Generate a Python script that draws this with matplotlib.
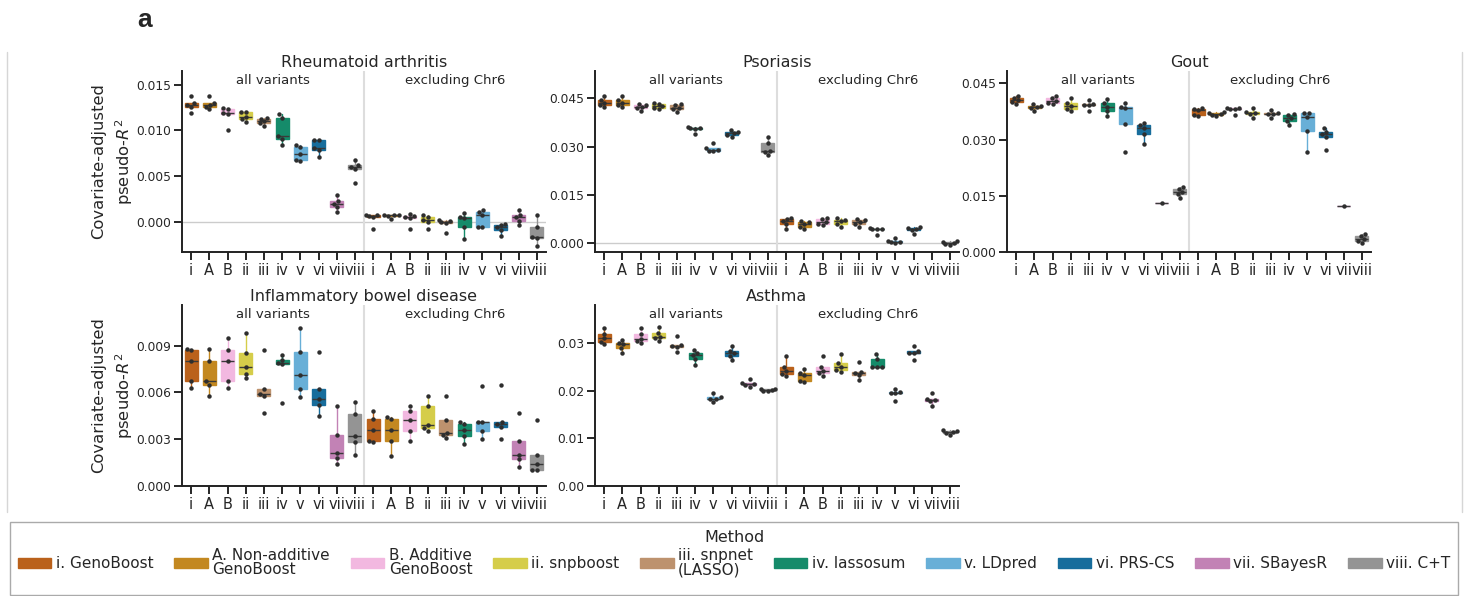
import numpy as np
import pandas as pd
import matplotlib
matplotlib.use('Agg')
import matplotlib.pyplot as plt
from matplotlib.patches import Patch, Rectangle
from matplotlib.lines import Line2D
import seaborn as sns

W, H = 1469, 596

# ── methods ───────────────────────────────────────────────────────────────────

TICK_LABELS = ["i", "A", "B", "ii", "iii", "iv", "v", "vi", "vii", "viii"]
METHOD_NAMES = [
    "i. GenoBoost", "A. Non-additive\nGenoBoost", "B. Additive\nGenoBoost",
    "ii. snpboost", "iii. snpnet\n(LASSO)", "iv. lassosum", "v. LDpred",
    "vi. PRS-CS", "vii. SBayesR", "viii. C+T",
]
BASE_COLORS = ["#D55E00", "#DE8F05", "#FBAFE4", "#ECE133", "#CA9161",
               "#029E73", "#56B4E9", "#0173B2", "#CC78BC", "#949494"]

# ── covariate-adjusted pseudo-R2 per fold (all variants / excluding Chr6) ─────

RA_ALL = [
    [0.0138, 0.0130, 0.0128, 0.0126, 0.0119],
    [0.0138, 0.0130, 0.0128, 0.0126, 0.0123],
    [0.0124, 0.0123, 0.0119, 0.0118, 0.0101],
    [0.0120, 0.0120, 0.0115, 0.0112, 0.0109],
    [0.0114, 0.0113, 0.0110, 0.0108, 0.0105],
    [0.0118, 0.0114, 0.0094, 0.0091, 0.0084],
    [0.0084, 0.0082, 0.0074, 0.0068, 0.0067],
    [0.0090, 0.0089, 0.0081, 0.0079, 0.0071],
    [0.0029, 0.0023, 0.0020, 0.0016, 0.0011],
    [0.0068, 0.0062, 0.0060, 0.0058, 0.0043],
]
RA_EXCL = [
    [0.0008, 0.0007, 0.0006, 0.0005, -0.0008],
    [0.0008, 0.0007, 0.0007, 0.0006, 0.0003],
    [0.0009, 0.0006, 0.0005, 0.0004, -0.0008],
    [0.0007, 0.0005, 0.0002, 0.0000, -0.0008],
    [0.0002, 0.0001, 0.0000, -0.0001, -0.0012],
    [0.0010, 0.0005, 0.0004, -0.0006, -0.0019],
    [0.0013, 0.0011, 0.0008, -0.0006, -0.0006],
    [-0.0002, -0.0004, -0.0006, -0.0009, -0.0016],
    [0.0013, 0.0007, 0.0005, 0.0001, -0.0004],
    [0.0008, -0.0006, -0.0017, -0.0018, -0.0026],
]
PSO_ALL = [
    [0.0458, 0.0445, 0.0437, 0.0430, 0.0422],
    [0.0458, 0.0445, 0.0437, 0.0430, 0.0423],
    [0.0433, 0.0430, 0.0424, 0.0419, 0.0411],
    [0.0437, 0.0434, 0.0425, 0.0419, 0.0416],
    [0.0434, 0.0428, 0.0421, 0.0416, 0.0409],
    [0.0360, 0.0359, 0.0357, 0.0356, 0.0338],
    [0.0312, 0.0295, 0.0290, 0.0288, 0.0286],
    [0.0352, 0.0347, 0.0341, 0.0336, 0.0329],
    [],
    [0.0331, 0.0310, 0.0287, 0.0285, 0.0274],
]
PSO_EXCL = [
    [0.0080, 0.0075, 0.0069, 0.0059, 0.0044],
    [0.0070, 0.0065, 0.0060, 0.0052, 0.0045],
    [0.0080, 0.0075, 0.0067, 0.0060, 0.0057],
    [0.0078, 0.0071, 0.0068, 0.0060, 0.0052],
    [0.0075, 0.0071, 0.0065, 0.0060, 0.0052],
    [0.0047, 0.0045, 0.0044, 0.0044, 0.0026],
    [0.0015, 0.0008, 0.0005, 0.0003, 0.0001],
    [0.0052, 0.0049, 0.0044, 0.0041, 0.0028],
    [],
    [0.0008, 0.0003, 0.0000, -0.0002, -0.0004],
]
GOUT_ALL = [
    [0.0417, 0.0412, 0.0405, 0.0401, 0.0394],
    [0.0394, 0.0390, 0.0386, 0.0383, 0.0376],
    [0.0417, 0.0410, 0.0403, 0.0397, 0.0394],
    [0.0412, 0.0397, 0.0390, 0.0382, 0.0376],
    [0.0406, 0.0394, 0.0393, 0.0392, 0.0376],
    [0.0408, 0.0397, 0.0388, 0.0376, 0.0363],
    [0.0397, 0.0387, 0.0383, 0.0342, 0.0268],
    [0.0345, 0.0339, 0.0332, 0.0314, 0.0287],
    [0.0130],
    [0.0173, 0.0169, 0.0161, 0.0155, 0.0144],
]
GOUT_EXCL = [
    [0.0383, 0.0381, 0.0379, 0.0366, 0.0363],
    [0.0373, 0.0370, 0.0367, 0.0366, 0.0363],
    [0.0385, 0.0384, 0.0382, 0.0381, 0.0366],
    [0.0384, 0.0374, 0.0370, 0.0367, 0.0357],
    [0.0379, 0.0372, 0.0368, 0.0367, 0.0358],
    [0.0367, 0.0365, 0.0357, 0.0350, 0.0339],
    [0.0372, 0.0370, 0.0361, 0.0323, 0.0266],
    [0.0332, 0.0321, 0.0314, 0.0307, 0.0272],
    [0.0122],
    [0.0048, 0.0042, 0.0035, 0.0030, 0.0025],
]
IBD_ALL = [
    [0.0088, 0.0087, 0.0080, 0.0067, 0.0063],
    [0.0088, 0.0080, 0.0067, 0.0065, 0.0058],
    [0.0095, 0.0087, 0.0080, 0.0067, 0.0063],
    [0.0098, 0.0085, 0.0076, 0.0072, 0.0069],
    [0.0087, 0.0062, 0.0059, 0.0058, 0.0047],
    [0.0084, 0.0081, 0.0079, 0.0078, 0.0053],
    [0.0101, 0.0086, 0.0071, 0.0062, 0.0057],
    [0.0086, 0.0062, 0.0056, 0.0052, 0.0045],
    [0.0051, 0.0033, 0.0021, 0.0018, 0.0014],
    [0.0054, 0.0046, 0.0032, 0.0028, 0.0020],
]
IBD_EXCL = [
    [0.0048, 0.0043, 0.0036, 0.0029, 0.0028],
    [0.0044, 0.0043, 0.0036, 0.0029, 0.0019],
    [0.0051, 0.0048, 0.0042, 0.0035, 0.0029],
    [0.0058, 0.0051, 0.0039, 0.0037, 0.0035],
    [0.0058, 0.0042, 0.0034, 0.0033, 0.0031],
    [0.0041, 0.0040, 0.0036, 0.0032, 0.0027],
    [0.0064, 0.0041, 0.0041, 0.0035, 0.0030],
    [0.0065, 0.0041, 0.0040, 0.0038, 0.0030],
    [0.0047, 0.0029, 0.0020, 0.0017, 0.0012],
    [0.0042, 0.0020, 0.0014, 0.0010, 0.0010],
]
ASTHMA_ALL = [
    [0.0333, 0.0321, 0.0311, 0.0304, 0.0298],
    [0.0307, 0.0300, 0.0298, 0.0290, 0.0281],
    [0.0333, 0.0321, 0.0310, 0.0305, 0.0300],
    [0.0335, 0.0322, 0.0314, 0.0311, 0.0305],
    [0.0316, 0.0297, 0.0295, 0.0293, 0.0283],
    [0.0286, 0.0279, 0.0275, 0.0267, 0.0254],
    [0.0195, 0.0188, 0.0184, 0.0183, 0.0177],
    [0.0295, 0.0284, 0.0280, 0.0274, 0.0265],
    [0.0225, 0.0217, 0.0214, 0.0212, 0.0209],
    [0.0205, 0.0204, 0.0202, 0.0201, 0.0200],
]
ASTHMA_EXCL = [
    [0.0274, 0.0251, 0.0243, 0.0235, 0.0232],
    [0.0247, 0.0237, 0.0233, 0.0221, 0.0219],
    [0.0274, 0.0251, 0.0242, 0.0237, 0.0232],
    [0.0277, 0.0258, 0.0251, 0.0244, 0.0240],
    [0.0260, 0.0241, 0.0237, 0.0233, 0.0223],
    [0.0277, 0.0268, 0.0251, 0.0250, 0.0250],
    [0.0205, 0.0198, 0.0196, 0.0195, 0.0178],
    [0.0294, 0.0284, 0.0281, 0.0280, 0.0265],
    [0.0195, 0.0184, 0.0181, 0.0178, 0.0169],
    [0.0117, 0.0116, 0.0114, 0.0112, 0.0107],
]

# title, data, ylim, yticks, tick format, (left, top) in px
PANELS = [
    ("Rheumatoid arthritis", RA_ALL, RA_EXCL, (-0.0033, 0.0165),
     [0.0, 0.005, 0.010, 0.015], "{:.3f}", (182, 71)),
    ("Psoriasis", PSO_ALL, PSO_EXCL, (-0.0027, 0.0535),
     [0.0, 0.015, 0.030, 0.045], "{:.3f}", (595, 71)),
    ("Gout", GOUT_ALL, GOUT_EXCL, (0.0, 0.0483),
     [0.0, 0.015, 0.030, 0.045], "{:.3f}", (1007, 71)),
    ("Inflammatory bowel disease", IBD_ALL, IBD_EXCL, (0.0, 0.0116),
     [0.0, 0.003, 0.006, 0.009], "{:.3f}", (182, 305)),
    ("Asthma", ASTHMA_ALL, ASTHMA_EXCL, (0.0, 0.0381),
     [0.0, 0.01, 0.02, 0.03], "{:.2f}", (595, 305)),
]
AX_W, AX_H = 364, 181

# ── style ─────────────────────────────────────────────────────────────────────

sns.set_style("ticks")
plt.rcParams['font.family'] = ['DejaVu Sans']
plt.rcParams['axes.linewidth'] = 1.4
plt.rcParams['xtick.major.width'] = 1.4
plt.rcParams['ytick.major.width'] = 1.4
plt.rcParams['xtick.major.size'] = 6.0
plt.rcParams['ytick.major.size'] = 6.0
plt.rcParams['xtick.major.pad'] = 2.0
plt.rcParams['ytick.major.pad'] = 2.0
plt.rcParams['axes.edgecolor'] = '#222222'

colors = [sns.desaturate(c, 0.75) for c in BASE_COLORS]
tick_labels = TICK_LABELS + TICK_LABELS


def draw_panel(ax, title, all_vals, excl_vals, ylim, yticks, fmt, ylabel):
    groups = list(all_vals) + list(excl_vals)
    box_cols = colors + colors

    ax.axhline(0, color='#cccccc', lw=1.0, zorder=0)
    ax.axvline(9.5, color='#dddddd', lw=1.5, zorder=0)

    for pos, (vals, col) in enumerate(zip(groups, box_cols)):
        if not vals:
            continue
        ax.boxplot([vals], positions=[pos], widths=0.72, patch_artist=True,
                   showfliers=False, showcaps=False, whis=1.5,
                   boxprops=dict(facecolor=col, edgecolor=col, linewidth=1.0),
                   whiskerprops=dict(color=col, linewidth=1.0),
                   medianprops=dict(color='#3a3a3a', linewidth=1.0),
                   zorder=2)

    rows = [(pos, v) for pos, vals in enumerate(groups) for v in vals]
    df = pd.DataFrame(rows, columns=["pos", "value"])
    sns.swarmplot(data=df, x="pos", y="value", native_scale=True,
                  color='#2e2e2e', size=3.2, ax=ax, zorder=3, warn_thresh=1)

    ax.set_xlim(-0.5, 19.5)
    ax.set_ylim(*ylim)
    ax.set_xticks(range(20))
    ax.set_xticklabels(tick_labels, fontsize=10.5)
    ax.set_yticks(yticks)
    ax.set_yticklabels([fmt.format(t) for t in yticks], fontsize=8.8)
    ax.set_xlabel("")
    ax.set_ylabel(ylabel, fontsize=11.8, linespacing=1.45, labelpad=0.5)
    ax.set_title(title, fontsize=11.5, pad=3)
    ax.text(4.5, 0.985, "all variants", transform=ax.get_xaxis_transform(),
            ha='center', va='top', fontsize=9.5)
    ax.text(14.5, 0.985, "excluding Chr6", transform=ax.get_xaxis_transform(),
            ha='center', va='top', fontsize=9.5)
    sns.despine(ax=ax)


fig = plt.figure(figsize=(W / 100, H / 100), dpi=100)

for title, a, e, ylim, yt, fmt, (left, top) in PANELS:
    ax = fig.add_axes([left / W, 1 - (top + AX_H) / H, AX_W / W, AX_H / H])
    ylabel = "Covariate-adjusted\npseudo-$R^2$" if left == 182 else ""
    draw_panel(ax, title, a, e, ylim, yt, fmt, ylabel)

# outer frame and panel letter
for x in (7, 1462):
    fig.add_artist(Line2D([x / W, x / W], [1 - 52 / H, 1 - 512 / H],
                          color='#d6d6d6', lw=1.0))
fig.text(145 / W, 1 - 20 / H, "a", fontsize=19, fontweight='bold',
         family='Liberation Sans', ha='center', va='center')

# legend box runs from y=522 px down to the bottom edge
fig.add_artist(Rectangle((10 / W, 1.5 / H), 1448 / W, (H - 522 - 1.5) / H,
                         transform=fig.transFigure, facecolor='none',
                         edgecolor='#aaaaaa', lw=1.0))
handles = [Patch(facecolor=c, edgecolor=c) for c in colors]
leg = fig.legend(handles, METHOD_NAMES, loc='upper left',
                 bbox_to_anchor=(10 / W, 0, 1448 / W, 1 - 522 / H),
                 mode='expand', ncol=10, title="Method", fontsize=11,
                 title_fontsize=11.5, frameon=False,
                 handlelength=2.2, handleheight=0.65, handletextpad=0.3,
                 borderaxespad=0, borderpad=0.5, labelspacing=0.2,
                 columnspacing=0.8)
for t in leg.get_texts():
    t.set_linespacing(0.95)

fig.savefig("out.png", dpi=100)
